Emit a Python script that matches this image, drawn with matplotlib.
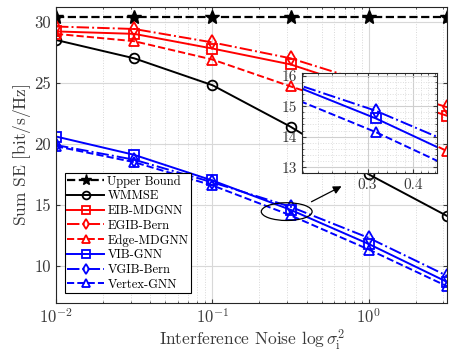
import matplotlib
matplotlib.use("Agg")
import matplotlib.pyplot as plt
import numpy as np
from matplotlib.patches import Ellipse
from matplotlib.ticker import FixedLocator, MultipleLocator, NullFormatter

plt.rcParams['font.family'] = ['cmr10', 'DejaVu Serif']
plt.rcParams['mathtext.fontset'] = 'cm'
plt.rcParams['axes.unicode_minus'] = False

# noise levels
noise = [0.01, 0.0316, 0.1, 0.316, 1.0, 3.16]

upper_bound = [30.4, 30.4, 30.4, 30.4, 30.4, 30.4]
wmmse = [28.5, 27.0, 24.8, 21.4, 17.5, 14.1]
eib_mdgnn = [29.2, 29.0, 27.8, 26.5, 24.4, 22.3]
egib_bern = [29.6, 29.4, 28.3, 27.0, 25.0, 23.0]
edge_mdgnn = [29.0, 28.4, 26.9, 24.7, 22.6, 19.4]
vib_gnn = [20.6, 19.1, 17.0, 14.6, 11.8, 8.7]
vgib_bern = [19.9, 18.7, 16.85, 14.85, 12.3, 9.2]
vertex_gnn = [19.8, 18.5, 16.6, 14.15, 11.35, 8.35]

series = [
    ("Upper Bound", upper_bound, 'k', '--', '*'),
    ("WMMSE", wmmse, 'k', '-', 'o'),
    ("EIB-MDGNN", eib_mdgnn, 'r', '-', 's'),
    ("EGIB-Bern", egib_bern, 'r', '-.', 'd'),
    ("Edge-MDGNN", edge_mdgnn, 'r', '--', '^'),
    ("VIB-GNN", vib_gnn, 'b', '-', 's'),
    ("VGIB-Bern", vgib_bern, 'b', '-.', 'd'),
    ("Vertex-GNN", vertex_gnn, 'b', '--', '^'),
]

tick_col = '#3a3a3a'


def draw(ax, ms=7):
    for name, vals, c, ls, mk in series:
        if mk == '*':
            ax.plot(noise, vals, color=c, ls=ls, lw=1.6, marker=mk, ms=ms + 3,
                    mfc=c, mec=c, label=name)
        else:
            ax.plot(noise, vals, color=c, ls=ls, lw=1.4, marker=mk, ms=ms,
                    mfc='none', mec=c, mew=1.3, label=name)


fig = plt.figure(figsize=(4.53, 3.58), dpi=100)
ax = fig.add_axes([0.1236, 0.1545, 0.8632, 0.826])
draw(ax)
ax.set_xscale('log')
ax.set_xlim(0.01, 10 ** 0.5)
ax.set_ylim(7, 31.2)
ax.set_yticks([10, 15, 20, 25, 30])
ax.set_xticks([0.01, 0.1, 1])
ax.set_xticklabels([r'$10^{-2}$', r'$10^{-1}$', r'$10^{0}$'])
ax.xaxis.set_minor_formatter(NullFormatter())
ax.tick_params(which='both', direction='in', top=True, right=True,
               labelsize=12, colors=tick_col, length=3)
ax.tick_params(which='minor', length=1.5)
ax.grid(True, which='major', color='#d8d8d8', lw=0.8)
ax.grid(True, which='minor', axis='x', color='#d8d8d8', ls=':', lw=0.7)
ax.set_axisbelow(True)
for s in ax.spines.values():
    s.set_color('#262626')
    s.set_linewidth(0.8)
ax.set_xlabel(r'Interference Noise $\log\sigma_\mathrm{i}^2$', fontsize=12.5, color=tick_col, labelpad=1)
ax.set_ylabel(r'Sum SE $[\mathrm{bit/s/Hz}]$', fontsize=12.5, color=tick_col, labelpad=1)

leg = ax.legend(loc='lower left', bbox_to_anchor=(0.023, 0.032), fontsize=9,
                handlelength=2.9, fancybox=False, framealpha=1, edgecolor='k',
                borderpad=0.2, labelspacing=0.2, handletextpad=0.3, borderaxespad=0,
                markerscale=0.8)
leg.get_frame().set_linewidth(0.8)

ell = Ellipse((0.59, 0.308), 0.13, 0.06, transform=ax.transAxes,
              fill=False, ec='k', lw=0.9, zorder=5)
ax.add_patch(ell)
ax.annotate('', xy=(344 / 453, 1 - 185 / 358), xytext=(309 / 453, 1 - 203 / 358),
            xycoords='figure fraction', textcoords='figure fraction',
            arrowprops=dict(arrowstyle='-|>', color='k', lw=0.9, mutation_scale=12))

# inset zoom
ins = fig.add_axes([0.666, 0.516, 0.298, 0.281])
draw(ins)
ins.set_xscale('log')
ins.set_xlim(0.198, 0.464)
ins.set_ylim(12.8, 16.1)
ins.xaxis.set_major_locator(FixedLocator([0.3, 0.4]))
ins.set_xticklabels(['0.3', '0.4'])
ins.xaxis.set_minor_locator(FixedLocator(np.arange(0.2, 0.47, 0.02)))
ins.xaxis.set_minor_formatter(NullFormatter())
ins.set_yticks([13, 14, 15, 16])
ins.yaxis.set_minor_locator(MultipleLocator(0.2))
ins.tick_params(which='both', direction='in', top=True, right=True,
                labelsize=11, colors=tick_col, length=3)
ins.tick_params(which='minor', length=1.5)
ins.grid(True, which='major', color='#cfcfcf', lw=0.8)
ins.grid(True, which='minor', color='#dddddd', ls=':', lw=0.7)
ins.set_axisbelow(True)
for s in ins.spines.values():
    s.set_color('#262626')
    s.set_linewidth(0.8)

fig.savefig('out.png', dpi=100)
